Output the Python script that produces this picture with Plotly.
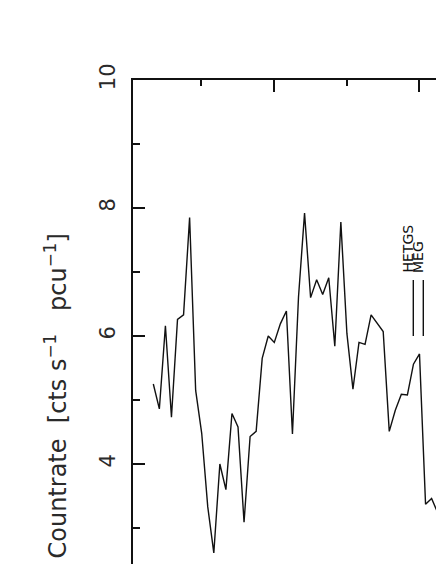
import plotly.graph_objects as go

# count rate per bin
RATE = [5.25, 4.86, 6.16, 4.73, 6.26, 6.33, 7.85, 5.15, 4.48, 3.33,
        2.61, 4.00, 3.60, 4.79, 4.58, 3.09, 4.43, 4.51, 5.65, 6.00,
        5.90, 6.19, 6.39, 4.47, 6.61, 7.92, 6.60, 6.88, 6.65, 6.91,
        5.84, 7.78, 6.04, 5.17, 5.90, 5.87, 6.33, 6.19, 6.07, 4.51,
        4.84, 5.09, 5.08, 5.56, 5.72, 3.37, 3.46, 3.24]
T_START = 0.16875
T_BIN = 1 / 24
LEGEND = ["HETGS", "MEG"]

FONT = "DejaVu Sans, Liberation Sans, sans-serif"
INK = "#111111"
TEXT = "#2a2a2a"

W, H = 436, 564
L, T = 133, 80


def px_x(p):
    return (p - L) / (W - L)


def px_y(p):
    return (H - p) / (H - T)


fig = go.Figure()
fig.add_trace(
    go.Scatter(
        y=RATE,
        x0=T_START,
        dx=T_BIN,
        mode="lines",
        line=dict(color=INK, width=1.4),
        showlegend=False,
        hoverinfo="skip",
    )
)

fig.update_layout(
    width=W,
    height=H,
    margin=dict(l=L, r=0, t=T, b=0, pad=0),
    paper_bgcolor="white",
    plot_bgcolor="white",
    font=dict(family=FONT, color=TEXT),
    showlegend=False,
)

fig.update_xaxes(
    side="top",
    range=[0.0289, 2.1157],
    showgrid=False,
    zeroline=False,
    showline=True,
    linecolor=INK,
    linewidth=1.5,
    showticklabels=False,
    ticks="inside",
    tick0=0,
    dtick=1,
    ticklen=12,
    tickwidth=1.5,
    tickcolor=INK,
    minor=dict(ticks="inside", dtick=0.5, ticklen=6, tickwidth=1.5, tickcolor=INK),
)

fig.update_yaxes(
    range=[10 - (H - T) / 64, 10],
    showgrid=False,
    zeroline=False,
    showline=True,
    linecolor=INK,
    linewidth=1.5,
    ticks="inside",
    tick0=0,
    dtick=2,
    ticklen=12,
    tickwidth=1.5,
    tickcolor=INK,
    minor=dict(ticks="inside", dtick=1, ticklen=7, tickwidth=1.5, tickcolor=INK),
    tickangle=-90,
    tickfont=dict(size=21, color=TEXT),
    ticklabelstandoff=8,
)

# y axis title, written along the axis
fig.add_annotation(
    text="Countrate\u00a0 [cts s<sup>\u22121</sup>\u00a0\u00a0 pcu<sup>\u22121</sup>]",
    xref="paper", yref="paper",
    x=px_x(55), y=px_y(561),
    xanchor="center", yanchor="bottom",
    textangle=-90,
    showarrow=False,
    font=dict(size=24, color=TEXT),
)

# rotated legend
for name, lx, tx in zip(LEGEND, [413.3, 423.3], [407.5, 418.0]):
    fig.add_shape(
        type="line", xref="paper", yref="paper",
        x0=px_x(lx), x1=px_x(lx), y0=px_y(336), y1=px_y(280),
        line=dict(color=INK, width=1.4),
    )
    fig.add_annotation(
        text=name,
        xref="paper", yref="paper",
        x=px_x(tx), y=px_y(275),
        xanchor="center", yanchor="bottom",
        textangle=-90,
        showarrow=False,
        font=dict(size=14, color=INK),
    )

fig.write_html(
    "out.html",
    config={"displayModeBar": False},
    post_script="document.body.style.margin='0';document.body.style.overflow='hidden';",
)
